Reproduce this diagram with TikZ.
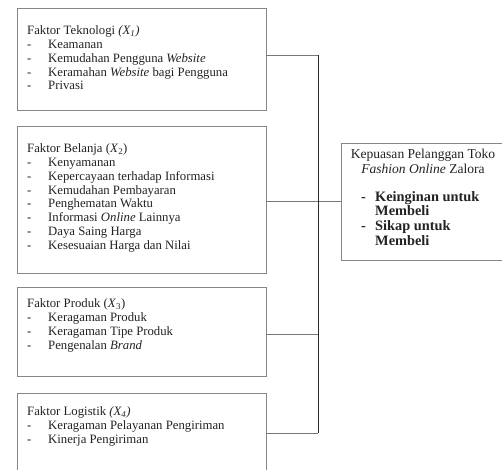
\documentclass[tikz,border=0pt]{standalone}
\usepackage{fontspec}
\setmainfont{Liberation Serif}
\definecolor{boxgray}{RGB}{135,135,135}
\definecolor{linegray}{RGB}{120,120,120}
\definecolor{vdark}{RGB}{40,40,40}
\definecolor{txt}{RGB}{35,35,35}
\newcommand{\lefttext}{\fontsize{12.8}{13.8}\selectfont}
\newcommand{\rtitle}{\fontsize{13.6}{15}\selectfont}
\newcommand{\rbold}{\fontsize{14.4}{14.6}\selectfont\bfseries}
\begin{document}
\begin{tikzpicture}[x=1bp,y=-1bp,
  box/.style={draw=boxgray, line width=0.9bp, anchor=north west, inner sep=0pt, minimum width=248.5bp},
  link/.style={draw=linegray, line width=0.9bp},
  vlink/.style={draw=vdark, line width=0.9bp},
  txtnode/.style={anchor=north west, inner sep=0pt, text=txt, font=\lefttext}]
\useasboundingbox (0,0) rectangle (502,470);
\fill[white] (0,0) rectangle (502,470);
% boxes
\node[box, minimum height=102bp] (b1) at (17,8) {};
\node[box, minimum height=147bp] (b2) at (17,126) {};
\node[box, minimum height=89bp] (b3) at (17,287) {};
\node[box, minimum height=92bp] (b4) at (17,393) {};
\node[box, minimum width=170bp, minimum height=117bp] (rb) at (341,143) {};
% texts
\node[txtnode] (t1) at (27,25) {\begin{tabular}{@{}p{21bp}@{}l@{}}
\multicolumn{2}{@{}l@{}}{Faktor Teknologi \textit{(X\textsubscript{1})}}\\
-&Keamanan\\
-&Kemudahan Pengguna \textit{Website}\\
-&Keramahan \textit{Website} bagi Pengguna\\
-&Privasi
\end{tabular}};
\node[txtnode] (t2) at (27,143) {\begin{tabular}{@{}p{21bp}@{}l@{}}
\multicolumn{2}{@{}l@{}}{Faktor Belanja (\textit{X}\textsubscript{2})}\\
-&Kenyamanan\\
-&Kepercayaan terhadap Informasi\\
-&Kemudahan Pembayaran\\
-&Penghematan Waktu\\
-&Informasi \textit{Online} Lainnya\\
-&Daya Saing Harga\\
-&Kesesuaian Harga dan Nilai
\end{tabular}};
\node[txtnode] (t3) at (27,298) {\begin{tabular}{@{}p{21bp}@{}l@{}}
\multicolumn{2}{@{}l@{}}{Faktor Produk (\textit{X}\textsubscript{3})}\\
-&Keragaman Produk\\
-&Keragaman Tipe Produk\\
-&Pengenalan \textit{Brand}
\end{tabular}};
\node[txtnode] (t4) at (27,406) {\begin{tabular}{@{}p{21bp}@{}l@{}}
\multicolumn{2}{@{}l@{}}{Faktor Logistik \textit{(X\textsubscript{4})}}\\
-&Keragaman Pelayanan Pengiriman\\
-&Kinerja Pengiriman
\end{tabular}};
\node[anchor=north, inner sep=0pt, text=txt, font=\rtitle, align=center] (rt) at (423,149) {Kepuasan Pelanggan Toko\\\textit{Fashion Online} Zalora};
\node[txtnode, font=\rbold] (rl) at (361,191) {\begin{tabular}{@{}p{14bp}@{}l@{}}
-&Keinginan untuk\\
&Membeli\\
-&Sikap untuk\\
&Membeli
\end{tabular}};
% connectors
\coordinate (j1) at (318,55);
\coordinate (j2) at (318,201);
\coordinate (j3) at (318,334);
\coordinate (j4) at (318,433);
\draw[link] (j1 -| b1.east) -- (j1);
\draw[link] (j2 -| b2.east) -- (j2 -| rb.west);
\draw[link] (j3 -| b3.east) -- (j3);
\draw[link] (j4 -| b4.east) -- (j4);
\draw[vlink] (j1) -- (j4);
\end{tikzpicture}
\end{document}
